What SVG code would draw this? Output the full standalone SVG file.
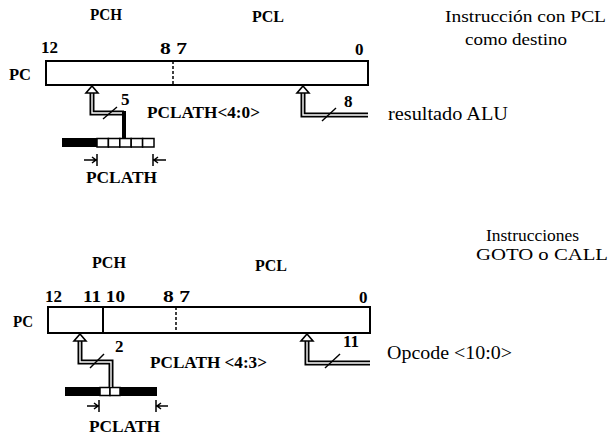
<svg xmlns="http://www.w3.org/2000/svg" width="609" height="439" viewBox="0 0 609 439">
<style>
text{font-family:"Liberation Serif","Times New Roman",serif;fill:#000}
.b{font-weight:bold;font-size:17px}
.r{font-size:18px}
.t{font-size:16px}
.reg{fill:#fff;stroke:#000;stroke-width:2}
.dash{stroke:#000;stroke-width:1.5;stroke-dasharray:3,2}
.solid{stroke:#000;stroke-width:2}
.bus-o{fill:none;stroke:#000;stroke-width:5;stroke-linejoin:miter}
.bus-i{fill:none;stroke:#fff;stroke-width:1.4;stroke-linejoin:miter}
.thick{fill:none;stroke:#000;stroke-width:4}
.head{fill:#fff;stroke:#000;stroke-width:1.6}
.slash{stroke:#000;stroke-width:1.4}
.box{fill:#fff;stroke:#000;stroke-width:1.5}
.blk{fill:#000}
.mk{stroke:#000;stroke-width:1.5;fill:none}
</style>
<g id="top-labels">
<text class="b" x="90" y="20" textLength="32" lengthAdjust="spacingAndGlyphs">PCH</text>
<text class="b" x="252" y="22" textLength="32" lengthAdjust="spacingAndGlyphs">PCL</text>
<text class="t" x="445" y="22" textLength="161" lengthAdjust="spacingAndGlyphs">Instrucción con PCL</text>
<text class="t" x="465" y="45" textLength="102" lengthAdjust="spacingAndGlyphs">como destino</text>
</g>
<g id="pc1">
<rect class="reg" x="46" y="61" width="322" height="24"/>
<line class="dash" x1="173" y1="61" x2="173" y2="85"/>
<text class="b" x="9" y="80" textLength="22" lengthAdjust="spacingAndGlyphs">PC</text>
<text class="b" x="41" y="53" textLength="17" lengthAdjust="spacingAndGlyphs">12</text>
<text class="b" x="160" y="54" textLength="27" lengthAdjust="spacingAndGlyphs">8 7</text>
<text class="b" x="355" y="55">0</text>
</g>
<g id="pclath1">
<rect class="blk" x="62" y="138" width="35" height="9"/>
<rect class="box" x="97" y="138.5" width="11.4" height="8.5"/>
<rect class="box" x="108.4" y="138.5" width="11.4" height="8.5"/>
<rect class="box" x="119.8" y="138.5" width="11.4" height="8.5"/>
<rect class="box" x="131.2" y="138.5" width="11.4" height="8.5"/>
<rect class="box" x="142.6" y="138.5" width="11.4" height="8.5"/>
<path class="mk" d="M84,160 H96 M92,157 L96,160 L92,163 M97,154 V166"/>
<path class="mk" d="M166,160 H154 M158,157 L154,160 L158,163 M153,154 V166"/>
<text class="b" x="86" y="183" textLength="71" lengthAdjust="spacingAndGlyphs">PCLATH</text>
</g>
<g id="alu1">
<text class="r" x="388" y="120" textLength="120" lengthAdjust="spacingAndGlyphs">resultado  ALU</text>
</g>
<g id="pc2">
<text class="b" x="92" y="268" textLength="34" lengthAdjust="spacingAndGlyphs">PCH</text>
<text class="b" x="255" y="271" textLength="32" lengthAdjust="spacingAndGlyphs">PCL</text>
<text class="t" x="486" y="241" textLength="93" lengthAdjust="spacingAndGlyphs">Instrucciones</text>
<text class="t" x="476" y="260" textLength="132" lengthAdjust="spacingAndGlyphs">GOTO  o  CALL</text>
<rect class="reg" x="48" y="307" width="322" height="26"/>
<line class="solid" x1="103" y1="307" x2="103" y2="333"/>
<line class="dash" x1="176" y1="307" x2="176" y2="333"/>
<text class="b" x="13" y="327" textLength="20" lengthAdjust="spacingAndGlyphs">PC</text>
<text class="b" x="45" y="302" textLength="17" lengthAdjust="spacingAndGlyphs">12</text>
<text class="b" x="83" y="302" textLength="42" lengthAdjust="spacingAndGlyphs">11 10</text>
<text class="b" x="163" y="302" textLength="27" lengthAdjust="spacingAndGlyphs">8 7</text>
<text class="b" x="359" y="303">0</text>
</g>
<g id="pclath2">
<rect class="blk" x="65" y="387" width="92" height="9"/>
<rect class="box" x="100" y="387.5" width="10" height="8"/>
<rect class="box" x="110" y="387.5" width="10" height="8"/>
<path class="mk" d="M87,406 H98 M94,403 L98,406 L94,409 M99,400 V412"/>
<path class="mk" d="M168,406 H157 M161,403 L157,406 L161,409 M156,400 V412"/>
<text class="b" x="89" y="432" textLength="71" lengthAdjust="spacingAndGlyphs">PCLATH</text>
</g>
<g id="opcode2">
<text class="r" x="387" y="359" textLength="125" lengthAdjust="spacingAndGlyphs">Opcode &lt;10:0&gt;</text>
</g>
<g id="connectors">
<path class="bus-o" d="M92,92 V113 H124"/>
<path class="bus-i" d="M92,92 V113 H122"/>
<path class="thick" d="M122,113 H124 V138"/>
<path class="head" d="M92,86 L98,93 L86,93 Z"/>
<line class="slash" x1="103" y1="119" x2="117" y2="107"/>
<text class="b" x="121" y="105">5</text>
<text class="b" x="147" y="118" textLength="113" lengthAdjust="spacingAndGlyphs">PCLATH&lt;4:0&gt;</text>
<path class="bus-o" d="M303,92 V115 H368"/>
<path class="bus-i" d="M303,92 V115 H368"/>
<path class="head" d="M303,86 L309,93 L297,93 Z"/>
<line class="slash" x1="322" y1="121" x2="336" y2="108"/>
<text class="b" x="344" y="107">8</text>
<path class="bus-o" d="M80,340 V362 H111 V387"/>
<path class="bus-i" d="M80,340 V362 H111 V387"/>
<path class="head" d="M80,334 L86,341 L74,341 Z"/>
<line class="slash" x1="90" y1="368" x2="104" y2="354"/>
<text class="b" x="115" y="352">2</text>
<text class="b" x="150" y="368" textLength="117" lengthAdjust="spacingAndGlyphs">PCLATH &lt;4:3&gt;</text>
<path class="bus-o" d="M307,340 V363 H370"/>
<path class="bus-i" d="M307,340 V363 H370"/>
<path class="head" d="M307,334 L313,341 L301,341 Z"/>
<line class="slash" x1="325" y1="368" x2="340" y2="354"/>
<text class="b" x="343" y="347">11</text>
</g>
</svg>
